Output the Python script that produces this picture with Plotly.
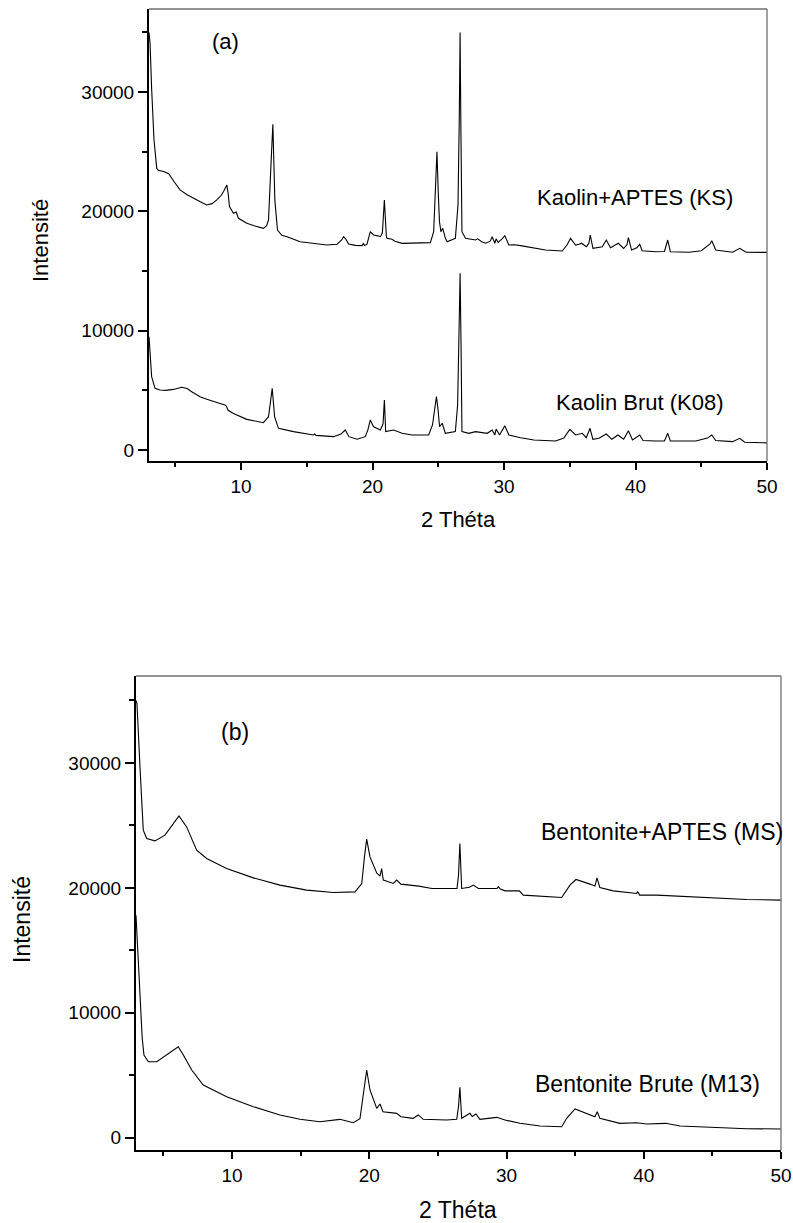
import plotly.graph_objects as go

# ---------------- data ----------------
ks_x = [3.0, 3.08, 3.2, 3.38, 3.59, 3.7, 4.1, 4.5, 4.9, 5.36, 5.9, 6.37, 6.9, 7.39, 7.8, 8.16, 8.5, 8.66, 8.92, 9.02,
        9.12, 9.42, 9.63, 9.8, 10.44, 11.0, 11.7, 11.95, 12.09, 12.27, 12.42, 12.57, 12.77, 13.1, 13.49, 14.5, 15.5,
        16.53, 17.3, 17.65, 17.8, 17.95, 18.18, 18.7, 19.2, 19.3, 19.4, 19.58, 19.83, 20.08, 20.4, 20.6, 20.75, 20.9,
        21.05, 21.1, 21.48, 21.7, 22.25, 23.0, 23.77, 24.4, 24.65, 24.8, 24.9, 25.0, 25.09, 25.2, 25.34, 25.54, 25.67,
        26.3, 26.5, 26.6, 26.66, 26.72, 26.8, 27.07, 27.5, 27.83, 28.0, 28.3, 28.6, 28.95, 29.1, 29.3, 29.4, 29.55,
        29.85, 30.06, 30.37, 30.8, 31.26, 32.14, 33.16, 34.43, 34.8, 35.06, 35.44, 35.7, 35.9, 36.26, 36.45, 36.56,
        36.76, 37.47, 37.78, 38.1, 38.45, 38.69, 39.1, 39.35, 39.46, 39.7, 40.1, 40.32, 40.5, 41.54, 42.2, 42.45,
        42.65, 44.07, 45.0, 45.47, 45.65, 45.8, 46.1, 47.38, 47.93, 48.4, 50.0]
ks_y = [35000, 34100, 30300, 26000, 23600, 23450, 23350, 23150, 22500, 21800, 21400, 21100, 20800, 20540, 20650,
        20960, 21350, 21650, 22200, 21500, 20400, 19840, 19950, 19420, 19000, 18800, 18580, 18800, 19280, 23750,
        27300, 20960, 18440, 18000, 17880, 17460, 17300, 17180, 17250, 17600, 17880, 17700, 17270, 17150, 17130,
        17300, 17130, 17250, 18300, 18020, 17950, 17880, 18200, 20960, 17900, 17740, 17660, 17500, 17320, 17330,
        17320, 17380, 18300, 22000, 25000, 21500, 19140, 18300, 18580, 17740, 17460, 17740, 20540, 28000, 35000,
        27000, 18300, 17740, 17650, 17600, 17700, 17450, 17330, 17500, 17880, 17330, 17700, 17400, 17700, 17960,
        17180, 17200, 17130, 16960, 16760, 16680, 17200, 17740, 17180, 17250, 17330, 17040, 17300, 18020, 16900,
        17040, 17600, 16960, 17150, 17330, 16900, 17200, 17800, 16760, 16950, 17240, 16700, 16620, 16640, 17600,
        16620, 16570, 16700, 17130, 17250, 17540, 16760, 16570, 16900, 16570, 16560]

k08_x = [3.0, 3.1, 3.2, 3.46, 3.84, 4.3, 4.85, 5.49, 5.9, 6.25, 6.88, 7.4, 7.9, 8.4, 8.79, 8.9, 9.0, 9.42, 10.44,
         11.1, 11.7, 12.09, 12.25, 12.37, 12.47, 12.55, 12.85, 13.99, 15.5, 15.6, 15.7, 17.04, 17.6, 17.93, 18.2,
         18.82, 19.45, 19.65, 19.83, 20.08, 20.6, 20.8, 20.9, 21.0, 21.6, 22.25, 23.0, 24.27, 24.56, 24.75, 24.86,
         24.98, 25.1, 25.3, 25.54, 26.3, 26.47, 26.58, 26.66, 26.73, 26.8, 27.32, 27.83, 28.72, 29.1, 29.3, 29.4,
         29.66, 29.9, 30.06, 30.37, 31.26, 32.27, 33.92, 34.55, 35.0, 35.44, 35.95, 36.26, 36.54, 36.76, 37.22,
         37.78, 38.2, 38.66, 39.1, 39.46, 39.77, 40.32, 40.57, 41.54, 42.2, 42.45, 42.65, 44.58, 45.47, 45.8, 46.1,
         47.38, 47.93, 48.3, 50.0]
k08_y = [9500, 7800, 6150, 5170, 5030, 5000, 5080, 5260, 5150, 4890, 4470, 4250, 4050, 3900, 3770, 3650, 3350, 3070,
         2570, 2400, 2290, 2790, 4000, 5170, 3900, 2790, 1820, 1540, 1260, 1350, 1230, 1120, 1350, 1680, 1120, 900,
         1120, 1700, 2510, 1950, 1680, 2200, 4190, 1540, 1680, 1400, 1260, 1260, 2100, 3600, 4470, 3400, 1950, 2240,
         1400, 1540, 3770, 10000, 14810, 9000, 1540, 1400, 1540, 1400, 1680, 1260, 1760, 1260, 1700, 2040, 1260,
         1030, 840, 750, 1000, 1730, 1260, 1400, 1030, 1820, 900, 980, 1340, 900, 1260, 900, 1620, 840, 1260, 800,
         750, 760, 1400, 770, 750, 1000, 1260, 800, 700, 980, 650, 600]

ms_x = [3.0, 3.07, 3.29, 3.53, 3.78, 4.38, 5.11, 5.72, 6.13, 6.69, 7.42, 8.15, 9.6, 11.55, 13.49, 15.44, 17.38,
        18.96, 19.45, 19.65, 19.81, 20.05, 20.54, 20.78, 20.9, 21.02, 21.75, 22.0, 22.3, 23.6, 24.57, 26.39, 26.5,
        26.6, 26.73, 27.3, 27.58, 27.95, 29.3, 29.4, 29.55, 29.89, 30.93, 31.22, 34.02, 34.62, 35.06, 36.08, 36.44,
        36.59, 36.8, 37.78, 39.48, 39.55, 39.7, 40.94, 42.64, 45.06, 47.5, 50.0]
ms_y = [35000, 34750, 29680, 24620, 23950, 23760, 24220, 25150, 25760, 24880, 23020, 22350, 21550, 20800, 20220,
        19820, 19630, 19680, 20350, 22500, 23900, 22480, 21200, 20940, 21550, 20620, 20350, 20620, 20300, 20140,
        19950, 19950, 21000, 23550, 19950, 20050, 20220, 19950, 19950, 20100, 19900, 19760, 19760, 19420, 19230,
        20220, 20670, 20300, 20140, 20800, 20030, 19760, 19550, 19700, 19420, 19420, 19340, 19230, 19070, 19020]

m13_x = [3.0, 3.1, 3.29, 3.45, 3.58, 3.9, 4.51, 5.24, 5.72, 6.08, 6.45, 7.06, 7.9, 9.61, 11.55, 13.49, 14.95, 16.4,
         17.86, 18.83, 19.32, 19.61, 19.81, 20.05, 20.54, 20.78, 21.0, 22.0, 22.3, 23.2, 23.57, 23.93, 25.64, 26.37,
         26.5, 26.6, 26.73, 27.33, 27.5, 27.77, 28.06, 29.28, 29.89, 30.98, 32.44, 34.02, 34.38, 34.99, 35.84,
         36.44, 36.61, 36.8, 38.26, 39.48, 40.21, 41.6, 42.64, 45.06, 47.5, 50.0]
m13_y = [17800, 15500, 11280, 8000, 6620, 6080, 6080, 6620, 7020, 7280, 6620, 5420, 4220, 3280, 2480, 1820, 1470,
         1280, 1470, 1200, 1520, 4080, 5420, 3820, 2350, 2700, 2080, 1950, 1680, 1550, 1820, 1470, 1420, 1470, 2500,
         4030, 1550, 1950, 1700, 1900, 1470, 1630, 1420, 1150, 940, 880, 1550, 2300, 1950, 1680, 2080, 1550, 1150,
         1200, 1100, 1150, 940, 830, 720, 700]

x_tick_vals = [10, 20, 30, 40, 50]
x_tick_text = ["10", "20", "30", "40", "50"]
y_tick_vals = [0, 10000, 20000, 30000]
y_tick_text = ["0", "10000", "20000", "30000"]
x_title = "2 Théta"
y_title = "Intensité"
panel_labels = ["(a)", "(b)"]
curve_labels_top = ["Kaolin+APTES (KS)", "Kaolin Brut (K08)"]
curve_labels_bottom = ["Bentonite+APTES (MS)", "Bentonite Brute (M13)"]

# ---------------- figure ----------------
W, H = 793, 1223
FONT = "Liberation Sans"


def px(xp):
    return xp / W


def py(yp):
    return 1 - yp / H


fig = go.Figure()
line = dict(color="black", width=1.1)
fig.add_trace(go.Scatter(x=ks_x, y=ks_y, mode="lines", line=line, xaxis="x", yaxis="y", showlegend=False))
fig.add_trace(go.Scatter(x=k08_x, y=k08_y, mode="lines", line=line, xaxis="x", yaxis="y", showlegend=False))
fig.add_trace(go.Scatter(x=ms_x, y=ms_y, mode="lines", line=line, xaxis="x2", yaxis="y2", showlegend=False))
fig.add_trace(go.Scatter(x=m13_x, y=m13_y, mode="lines", line=line, xaxis="x2", yaxis="y2", showlegend=False))


def xaxis(domain, anchor, fs):
    return dict(domain=domain, anchor=anchor, range=[3, 50], tickmode="array", tickvals=x_tick_vals,
                ticktext=x_tick_text, ticks="outside", ticklen=7,
                tickwidth=1.5, tickcolor="black", showline=True, linecolor="black", linewidth=2, showgrid=False,
                zeroline=False, tickfont=dict(family=FONT, size=fs, color="black"), automargin=False,
                minor=dict(dtick=5, tick0=0, ticks="outside", ticklen=4, tickwidth=1.5, tickcolor="black",
                           showgrid=False))


def yaxis(domain, anchor, rng, fs):
    return dict(domain=domain, anchor=anchor, range=rng, tickmode="array", tickvals=y_tick_vals,
                ticktext=y_tick_text, ticks="outside", ticklen=9,
                tickwidth=1.5, tickcolor="black", showline=True, linecolor="black", linewidth=2, showgrid=False,
                zeroline=False, tickfont=dict(family=FONT, size=fs, color="black"), automargin=False,
                minor=dict(dtick=5000, tick0=0, ticks="outside", ticklen=5, tickwidth=1.5, tickcolor="black",
                           showgrid=False))


fig.update_layout(
    width=W, height=H, margin=dict(l=0, r=0, t=0, b=0),
    paper_bgcolor="white", plot_bgcolor="white",
    font=dict(family=FONT, color="black"),
    xaxis=xaxis([px(149), px(767)], "y", 19),
    yaxis=yaxis([py(461), py(9)], "x", [-920, 36960], 19),
    xaxis2=xaxis([px(136), px(781)], "y2", 19),
    yaxis2=yaxis([py(1150), py(676)], "x2", [-985, 36960], 19),
)

# grey top/right frame lines
for xr, yr in [("x domain", "y domain"), ("x2 domain", "y2 domain")]:
    fig.add_shape(type="line", xref=xr, yref=yr, x0=0, x1=1, y0=1, y1=1, line=dict(color="#707070", width=1.3))
    fig.add_shape(type="line", xref=xr, yref=yr, x0=1, x1=1, y0=0, y1=1, line=dict(color="#707070", width=1.3))


def ann(text, x, y, size, xanchor="left", angle=0):
    fig.add_annotation(text=text, x=px(x), y=py(y), xref="paper", yref="paper", showarrow=False,
                       xanchor=xanchor, yanchor="middle", textangle=angle,
                       font=dict(family=FONT, size=size, color="black"))


# axis titles
ann(x_title, 458, 519, 22, "center")
ann(y_title, 40, 241, 22, "center", -90)
ann(x_title, 458, 1210, 23, "center")
ann(y_title, 22, 920, 23, "center", -90)

# panel + curve labels
ann(panel_labels[0], 210, 42, 22)
ann(curve_labels_top[0], 535, 197, 22)
ann(curve_labels_top[1], 554, 402, 22)
ann(panel_labels[1], 219, 732, 23)
ann(curve_labels_bottom[0], 539, 832, 23)
ann(curve_labels_bottom[1], 533, 1084, 23)

fig.write_html("out.html", config={"displayModeBar": False},
               post_script="document.body.style.margin='0';document.body.style.overflow='hidden';")
